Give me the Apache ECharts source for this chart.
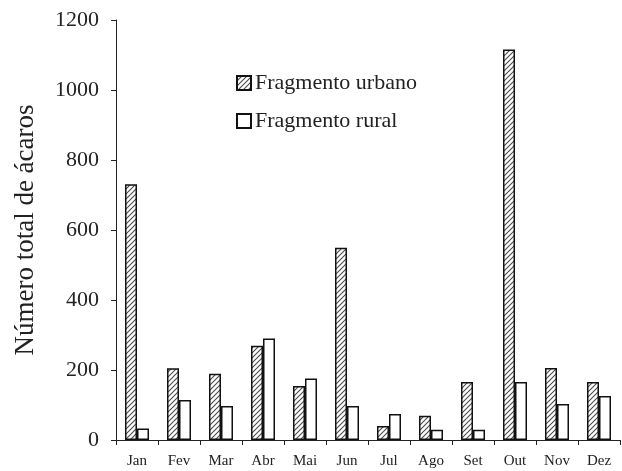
<!DOCTYPE html>
<html><head><meta charset="utf-8">
<script src="https://cdn.jsdelivr.net/npm/echarts@6/dist/echarts.min.js"></script>
<style>html,body{margin:0;padding:0;background:#fff}#c{width:622px;height:471px}</style>
</head><body><div id="c"></div>
<script>
const months = ['Jan','Fev','Mar','Abr','Mai','Jun','Jul','Ago','Set','Out','Nov','Dez'];
const urbano = [731, 205, 189, 269, 154, 549, 40, 69, 166, 1116, 206, 166];
const rural  = [33, 114, 97, 290, 176, 97, 74, 29, 29, 166, 103, 126];
const yTicks = [0, 200, 400, 600, 800, 1000, 1200];

function makeHatch(){
  const s = 5;
  const c = document.createElement('canvas'); c.width = s; c.height = s;
  const ctx = c.getContext('2d');
  ctx.fillStyle = '#fff'; ctx.fillRect(0,0,s,s);
  ctx.strokeStyle = '#4a4a4a'; ctx.lineWidth = 1.1;
  ctx.beginPath();
  ctx.moveTo(0,s); ctx.lineTo(s,0);
  ctx.moveTo(-1,1); ctx.lineTo(1,-1);
  ctx.moveTo(s-1,s+1); ctx.lineTo(s+1,s-1);
  ctx.stroke();
  return c;
}
const hatch = {image: makeHatch(), repeat: 'repeat'};
const font = '"Liberation Serif","Times New Roman",serif';

const chart = echarts.init(document.getElementById('c'), null, {renderer:'canvas'});
chart.setOption({
  animation: false,
  backgroundColor: '#fff',
  grid: {left: 116, right: 2, top: 20, bottom: 31},
  legend: {
    orient: 'vertical', left: 231, top: 67, itemGap: 16,
    itemWidth: 14, itemHeight: 14, icon: 'rect',
    textStyle: {fontFamily: font, fontSize: 22, lineHeight: 22, color: '#222', padding: [0,0,0,-1]},
    data: ['Fragmento urbano', 'Fragmento rural']
  },
  xAxis: {
    type: 'category', data: months,
    axisLine: {lineStyle: {color: '#222', width: 1}},
    axisTick: {show: true, length: 5, lineStyle: {color: '#222'}},
    axisLabel: {fontFamily: font, fontSize: 15, color: '#222', margin: 14}
  },
  yAxis: {
    type: 'value', min: yTicks[0], max: yTicks[yTicks.length-1], interval: 200,
    name: 'Número total de ácaros', nameLocation: 'middle', nameGap: 77,
    nameTextStyle: {fontFamily: font, fontSize: 27, color: '#222'},
    splitLine: {show: false},
    axisLine: {show: true, lineStyle: {color: '#222', width: 1}},
    axisTick: {show: true, length: 5, lineStyle: {color: '#222'}},
    axisLabel: {fontFamily: font, fontSize: 22, color: '#222', margin: 17,
                formatter: v => String(v)}
  },
  series: [
    {name: 'Fragmento urbano', type: 'bar', data: urbano, barWidth: 12, barGap: '0%',
     itemStyle: {color: hatch, borderColor: '#111', borderWidth: 1.5}},
    {name: 'Fragmento rural', type: 'bar', data: rural, barWidth: 12, barGap: '0%',
     itemStyle: {color: '#fff', borderColor: '#111', borderWidth: 1.5}}
  ]
});
</script></body></html>
